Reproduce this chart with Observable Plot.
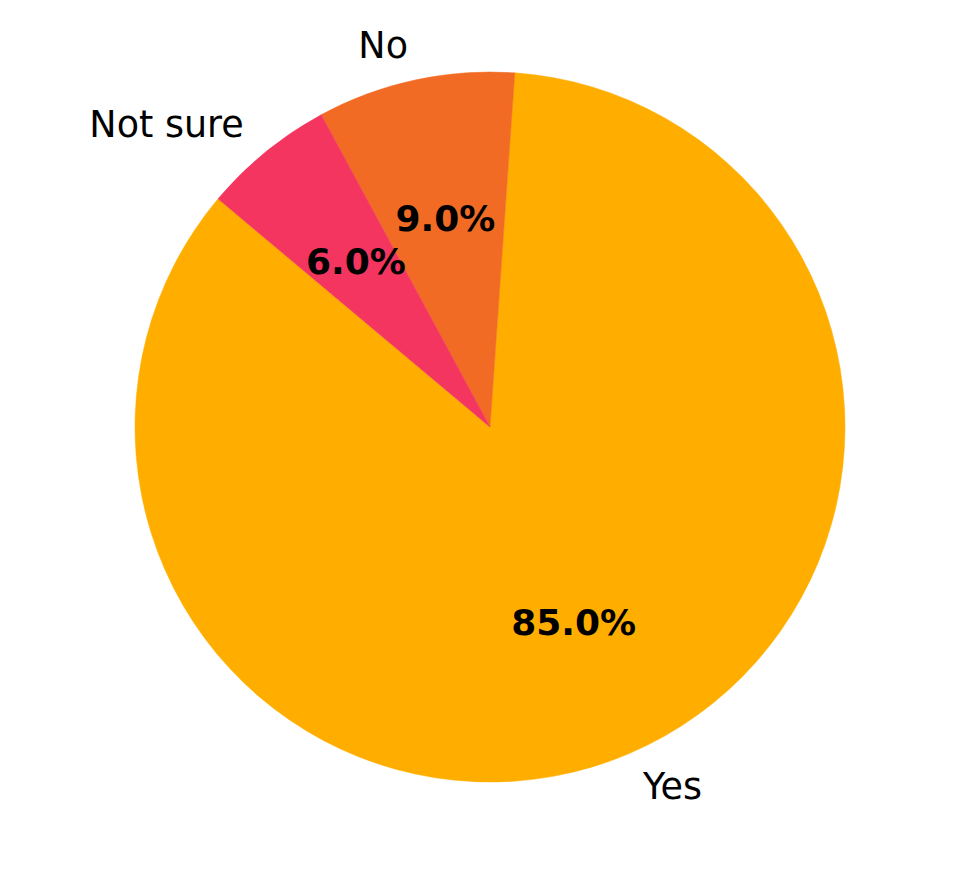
<!DOCTYPE html>
<html>
<head>
<meta charset="utf-8">
<script src="https://cdn.jsdelivr.net/npm/d3@7"></script>
<script src="https://cdn.jsdelivr.net/npm/@observablehq/plot@0.6"></script>
<style>
  html, body { margin: 0; padding: 0; background: #fff; }
  #chart { width: 980px; height: 894px; }
</style>
</head>
<body>
<div id="chart"></div>
<script>
const categories = ["Yes", "No", "Not sure"];
const shares = [85, 9, 6];
const sliceColors = ["#FFAE00", "#F26B24", "#F43560"];

const W = 980, H = 894, CX = 490, CY = 427, R = 355;
const startDeg = 140; // matplotlib-style start angle (counterclockwise from +x)

const data = categories.map((c, i) => ({category: c, share: shares[i]}));
const a0 = (90 - startDeg) * Math.PI / 180;
const pie = d3.pie().value(d => d.share).sort(null)
  .startAngle(a0).endAngle(a0 - 2 * Math.PI);
const arcs = pie(data);
const rows = arcs.map(a => {
  const mid = (a.startAngle + a.endAngle) / 2;
  return {category: a.data.category, share: a.data.share, sx: Math.sin(mid), sy: Math.cos(mid)};
});
const color = d3.scaleOrdinal(categories, sliceColors);

function pieMark(index, scales, values, dims) {
  const cx = scales.x(0), cy = scales.y(0);
  const r = scales.x(1) - scales.x(0);
  const g = d3.create("svg:g").attr("transform", `translate(${cx},${cy})`);
  const arc = d3.arc().innerRadius(0).outerRadius(r);
  g.selectAll("path").data(arcs).join("path")
    .attr("d", arc)
    .attr("fill", d => color(d.data.category))
    .attr("stroke", d => color(d.data.category))
    .attr("stroke-width", 0.5);
  return g.node();
}

const plot = Plot.plot({
  width: W,
  height: H,
  margin: 0,
  style: {fontFamily: "DejaVu Sans", background: "#fff", overflow: "visible"},
  x: {domain: [-CX / R, (W - CX) / R], range: [0, W], axis: null},
  y: {domain: [-(H - CY) / R, CY / R], range: [H, 0], axis: null},
  marks: [
    pieMark,
    Plot.text(rows.filter(d => d.sx >= 0), {
      x: d => 1.1 * d.sx, y: d => 1.1 * d.sy, text: "category",
      textAnchor: "start", fontSize: 36.5, fill: "#000"
    }),
    Plot.text(rows.filter(d => d.sx < 0), {
      x: d => 1.1 * d.sx, y: d => 1.1 * d.sy, text: "category",
      textAnchor: "end", fontSize: 36.5, fill: "#000"
    }),
    Plot.text(rows, {
      x: d => 0.6 * d.sx, y: d => 0.6 * d.sy, text: d => d.share.toFixed(1) + "%",
      fontSize: 36, fontWeight: "bold", fill: "#000"
    })
  ]
});
document.getElementById("chart").appendChild(plot);
</script>
</body>
</html>
